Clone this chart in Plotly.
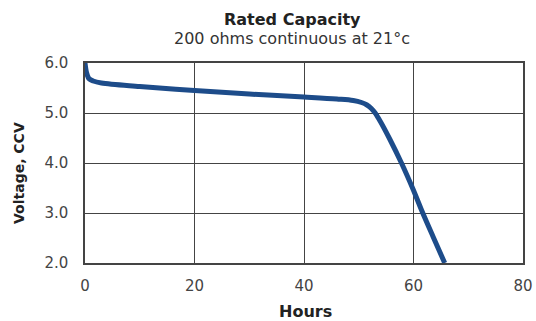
import plotly.graph_objects as go

hours = [0, 0.3, 0.7, 1.5, 3, 10, 20, 30, 40, 46, 49, 50.5, 51.5, 52.3, 53, 54, 55.7, 57.8, 59.9, 61.5, 63.6, 65.7]
volts = [6.0, 5.8, 5.69, 5.64, 5.6, 5.53, 5.45, 5.38, 5.32, 5.28, 5.25, 5.21, 5.16, 5.09, 5.0, 4.82, 4.47, 4.0, 3.48, 3.05, 2.52, 2.0]

x_ticks = [0, 20, 40, 60, 80]
y_ticks = [2.0, 3.0, 4.0, 5.0, 6.0]

fig = go.Figure()
fig.add_trace(go.Scatter(x=hours, y=volts, mode="lines",
                         line=dict(color="#1d4c8a", width=5, shape="spline", smoothing=1.0),
                         showlegend=False, hoverinfo="skip"))

W, H = 536, 321
L, R, T, B = 85, 13, 63, 58
PW, PH = W - L - R, H - T - B

axis_common = dict(showline=True, linecolor="#444", linewidth=1.5, mirror=True,
                   showgrid=True, gridcolor="#444", gridwidth=1.2, zeroline=False,
                   automargin=False, ticks="",
                   tickfont=dict(family="DejaVu Sans", size=15, color="#444"))

fig.update_layout(
    width=W, height=H,
    margin=dict(l=L, r=R, t=T, b=B),
    paper_bgcolor="white", plot_bgcolor="white",
    xaxis=dict(range=[0, 80], tickvals=x_ticks, ticktext=[str(v) for v in x_ticks],
               ticklabelstandoff=8, **axis_common),
    yaxis=dict(range=[2, 6], tickvals=y_ticks, ticktext=[f"{v:.1f}" for v in y_ticks],
               ticklabelstandoff=12, **axis_common),
    annotations=[
        dict(text="<b>Rated Capacity</b>", xref="paper", yref="paper",
             x=(292 - L) / PW, y=1 + (T - 19) / PH, showarrow=False,
             font=dict(family="DejaVu Sans", size=16, color="#222"), xanchor="center", yanchor="middle"),
        dict(text="200 ohms continuous at 21°c", xref="paper", yref="paper",
             x=(292 - L) / PW, y=1 + (T - 38) / PH, showarrow=False,
             font=dict(family="DejaVu Sans", size=16, color="#333"), xanchor="center", yanchor="middle"),
        dict(text="<b>Hours</b>", xref="paper", yref="paper",
             x=(305 - L) / PW, y=-(311 - (H - B)) / PH, showarrow=False,
             font=dict(family="DejaVu Sans", size=16, color="#222"), xanchor="center", yanchor="middle"),
        dict(text="<b>Voltage, CCV</b>", xref="paper", yref="paper", textangle=-90,
             x=-(L - 19) / PW, y=1 - (173 - T) / PH, showarrow=False,
             font=dict(family="DejaVu Sans", size=14, color="#222"), xanchor="center", yanchor="middle"),
    ],
)

fig.write_html("out.html", config={"displayModeBar": False},
               post_script="document.body.style.margin='0';document.body.style.overflow='hidden';")
